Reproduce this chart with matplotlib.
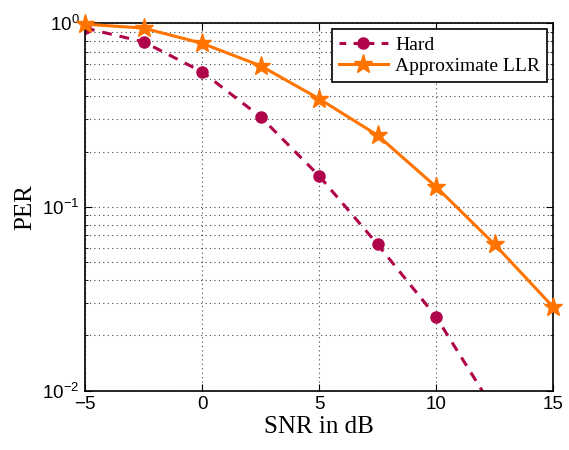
import matplotlib

matplotlib.use("Agg")
import matplotlib.pyplot as plt
from matplotlib.ticker import LogLocator, NullFormatter

# SNR [dB]
snr_db = [-5, -2.5, 0, 2.5, 5, 7.5, 10, 12.5, 15]

# PER (Hard は 12.5 dB で下限を割る、15 dB は表示範囲外なので省略)
snr_hard = [-5, -2.5, 0, 2.5, 5, 7.5, 10, 12.5]
per_hard = [0.943, 0.794, 0.545, 0.310, 0.148, 0.0627, 0.0253, 0.0078]
per_llr = [0.99, 0.943, 0.779, 0.588, 0.389, 0.246, 0.129, 0.0627, 0.0286]

label_hard = "Hard"
label_llr = "Approximate LLR"
x_ticks = [-5, 0, 5, 10, 15]

serif = ["Liberation Serif", "DejaVu Serif"]
sans = ["Liberation Sans", "DejaVu Sans"]

fig = plt.figure(figsize=(5.69, 4.5), dpi=100)
ax = fig.add_axes((0.1494, 0.1318, 0.8225, 0.8162))

ax.plot(
    snr_hard, per_hard,
    color="#B0044A", linestyle=(0, (3.2, 2.6)), linewidth=2.2,
    marker="o", markersize=8, label=label_hard, clip_on=True,
)
ax.plot(
    snr_db, per_llr,
    color="#FF7400", linestyle="-", linewidth=2.2,
    marker="*", markersize=14, label=label_llr, clip_on=False, zorder=3,
)

ax.set_yscale("log")
ax.set_xlim(-5, 15)
ax.set_ylim(1e-2, 1)
ax.set_xticks(x_ticks)
ax.yaxis.set_major_locator(LogLocator(base=10, numticks=10))
ax.yaxis.set_minor_locator(LogLocator(base=10, subs=range(2, 10), numticks=10))
ax.yaxis.set_minor_formatter(NullFormatter())

ax.grid(True, which="major", linestyle=(0, (1, 3)), color="#444444", linewidth=0.8)
ax.grid(True, which="minor", axis="y", linestyle=(0, (1, 3)), color="#444444", linewidth=0.8)
ax.tick_params(which="both", direction="in", top=True, right=True)
ax.tick_params(which="major", length=5, labelsize=13.5, pad=4)
ax.tick_params(which="minor", length=2.5)
for lab in ax.get_xticklabels() + ax.get_yticklabels():
    lab.set_family(sans)
for s in ax.spines.values():
    s.set_linewidth(1.2)

ax.set_xlabel("SNR in dB", family=serif, fontsize=18, labelpad=2)
ax.set_ylabel("PER", family=serif, fontsize=18, labelpad=4)

leg = ax.legend(
    loc="upper right", prop={"family": serif, "size": 14},
    fancybox=False, framealpha=1, edgecolor="black",
    borderaxespad=0.3, handlelength=2.5, handletextpad=0.4,
    borderpad=0.35, labelspacing=0.2,
)
leg.get_frame().set_linewidth(1.2)
# 凡例の破線は「- ● -」に見えるよう左右対称にする
leg.get_lines()[0].set_linestyle((0, (2.2, 2.4)))

fig.savefig("out.png", dpi=100)
